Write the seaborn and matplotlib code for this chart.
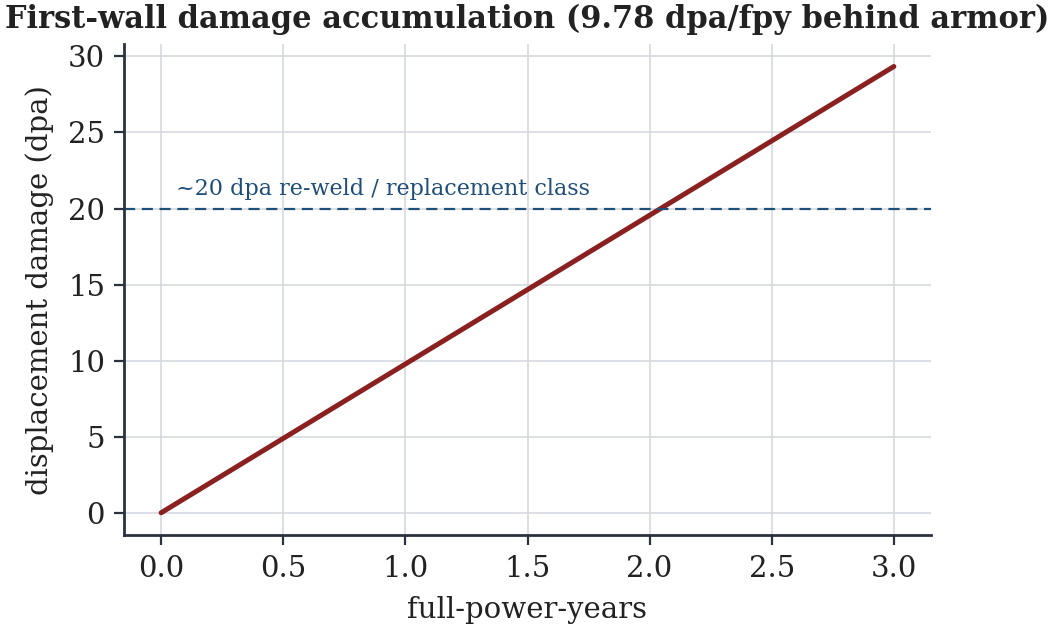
import matplotlib
matplotlib.use("Agg")
import matplotlib.pyplot as plt
import seaborn as sns
import pandas as pd

# Data
years = [0.0, 0.5, 1.0, 1.5, 2.0, 2.5, 3.0]
dpa = [0.0, 4.89, 9.78, 14.67, 19.56, 24.45, 29.34]
threshold = 20
threshold_label = "~20 dpa re-weld / replacement class"
title = "First-wall damage accumulation (9.78 dpa/fpy behind armor)"
xlabel = "full-power-years"
ylabel = "displacement damage (dpa)"

sns.set_theme(style="whitegrid")
plt.rcParams["font.family"] = ["DejaVu Serif"]
plt.rcParams.update({
    "axes.edgecolor": "#2a3240",
    "grid.color": "#d5d9df",
    "grid.linewidth": 0.6,
    "xtick.color": "#2a3240",
    "ytick.color": "#2a3240",
    "xtick.labelcolor": "#222222",
    "ytick.labelcolor": "#222222",
    "text.color": "#222222",
    "axes.labelcolor": "#222222",
})

df = pd.DataFrame({"years": years, "dpa": dpa})

fig, ax = plt.subplots(figsize=(5.275, 3.155), dpi=200)
fig.subplots_adjust(left=0.118, right=0.882, bottom=0.152, top=0.93)

sns.lineplot(data=df, x="years", y="dpa", ax=ax, color="#8b2020", linewidth=1.8)
ax.axhline(threshold, color="#1f4e79", linestyle="--", linewidth=0.8, dashes=(5, 3))
ax.text(0.06, threshold + 0.55, threshold_label, color="#1f4e79", fontsize=8,
        va="bottom", ha="left")

ax.set_title(title, fontsize=11, fontweight="bold", loc="center", pad=6)
ax.set_xlabel(xlabel, fontsize=10.5, labelpad=5)
ax.set_ylabel(ylabel, fontsize=10.5, labelpad=5)
ax.set_xticks([0.0, 0.5, 1.0, 1.5, 2.0, 2.5, 3.0])
ax.set_yticks([0, 5, 10, 15, 20, 25, 30])
ax.tick_params(axis="both", labelsize=10.5, length=3.5, width=0.8, direction="out",
               bottom=True, left=True)
for s in ["top", "right"]:
    ax.spines[s].set_visible(False)
for s in ["left", "bottom"]:
    ax.spines[s].set_linewidth(1.0)

fig.savefig("out.png", dpi=200)
